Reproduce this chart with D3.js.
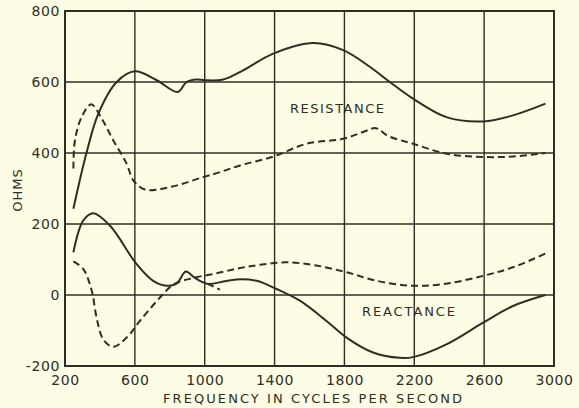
<!DOCTYPE html>
<html>
<head>
<meta charset="utf-8">
<script src="https://cdn.jsdelivr.net/npm/d3@7"></script>
<style>
  html, body { margin: 0; padding: 0; background: #fdfde6; }
  svg { display: block; }
  text { font-family: "DejaVu Sans", sans-serif; fill: #2e2e24; }
</style>
</head>
<body>
<svg id="chart" width="579" height="408"></svg>
<script>
// Frequency (cycles per second) and ohms
const resistanceSolid = [
  [248, 243], [324, 402], [391, 511], [496, 600], [600, 630], [725, 605],
  [845, 572], [896, 600], [953, 607], [1000, 605], [1106, 607], [1220, 633],
  [1392, 680], [1621, 710], [1793, 690], [1945, 643], [2060, 600], [2193, 553],
  [2384, 501], [2594, 489], [2765, 506], [2951, 539]
];
const resistanceDashed = [
  [248, 356], [257, 436], [295, 501], [350, 537], [410, 497], [476, 436],
  [553, 370], [591, 323], [658, 297], [801, 304], [991, 332], [1087, 346],
  [1202, 365], [1392, 390], [1583, 426], [1793, 440], [1907, 459], [1980, 470],
  [2050, 448], [2193, 426], [2384, 398], [2594, 389], [2765, 390], [2951, 400]
];
const reactanceSolid = [
  [248, 120], [305, 210], [362, 230], [458, 195], [610, 87], [705, 40],
  [782, 26], [839, 32], [892, 66], [944, 48], [1020, 31], [1106, 38],
  [1182, 44], [1297, 40], [1411, 17], [1545, -16], [1697, -73], [1812, -120],
  [1964, -162], [2117, -177], [2193, -175], [2384, -139], [2594, -78],
  [2765, -31], [2951, 0]
];
const reactanceDashed = [
  [248, 95], [305, 73], [353, 12], [381, -64], [419, -125], [476, -146],
  [553, -120], [629, -73], [744, -7], [820, 29], [934, 48], [1068, 61],
  [1202, 76], [1316, 85], [1468, 92], [1640, 83], [1812, 64], [1984, 40],
  [2193, 26], [2384, 32], [2594, 54], [2765, 78], [2966, 120]
];
const reactanceStub = [[1020, 31], [1087, 15]];

const xTicks = [200, 600, 1000, 1400, 1800, 2200, 2600, 3000];
const yTicks = [-200, 0, 200, 400, 600, 800];

const ink = '#2e2e24';
const svg = d3.select('#chart');
const margin = { top: 11, right: 25, bottom: 42, left: 65 };
const width = +svg.attr('width');
const height = +svg.attr('height');

const x = d3.scaleLinear().domain([200, 3000]).range([margin.left, width - margin.right]);
const y = d3.scaleLinear().domain([-200, 800]).range([height - margin.bottom, margin.top]);

// grid
svg.append('g').selectAll('line').data(xTicks.slice(1, -1)).join('line')
  .attr('x1', d => x(d)).attr('x2', d => x(d))
  .attr('y1', y(800)).attr('y2', y(-200))
  .attr('stroke', ink).attr('stroke-width', 1.4);
svg.append('g').selectAll('line').data(yTicks.slice(1, -1)).join('line')
  .attr('x1', x(200)).attr('x2', x(3000))
  .attr('y1', d => y(d)).attr('y2', d => y(d))
  .attr('stroke', ink).attr('stroke-width', 1.4);

// frame
svg.append('rect')
  .attr('x', x(200)).attr('y', y(800))
  .attr('width', x(3000) - x(200)).attr('height', y(-200) - y(800))
  .attr('fill', 'none').attr('stroke', ink).attr('stroke-width', 2);

// axes (labels only)
const yAxis = svg.append('g')
  .attr('transform', `translate(${x(200)},0)`)
  .call(d3.axisLeft(y).tickValues(yTicks).tickSize(0).tickPadding(5).tickFormat(d => String(d)));
const xAxis = svg.append('g')
  .attr('transform', `translate(0,${y(-200)})`)
  .call(d3.axisBottom(x).tickValues(xTicks).tickSize(0).tickPadding(9).tickFormat(d => String(d)));
[yAxis, xAxis].forEach(g => {
  g.select('.domain').remove();
  g.selectAll('text')
    .attr('fill', ink)
    .style('font-family', '"DejaVu Sans", sans-serif')
    .style('font-size', '14px')
    .style('letter-spacing', '0.6px');
});

// curves
const line = d3.line()
  .x(d => x(d[0])).y(d => y(d[1]))
  .curve(d3.curveCatmullRom.alpha(0.5));

const series = [
  { data: resistanceSolid, dash: null },
  { data: resistanceDashed, dash: '7,4' },
  { data: reactanceSolid, dash: null },
  { data: reactanceDashed, dash: '7,4' },
  { data: reactanceStub, dash: '6,4' }
];
svg.append('g').selectAll('path').data(series).join('path')
  .attr('d', d => line(d.data))
  .attr('fill', 'none')
  .attr('stroke', ink)
  .attr('stroke-width', 2)
  .attr('stroke-dasharray', d => d.dash);

// labels
svg.append('text').attr('x', 290).attr('y', 113)
  .attr('textLength', 94).attr('lengthAdjust', 'spacing')
  .style('font-size', '13px').text('RESISTANCE');
svg.append('text').attr('x', 362).attr('y', 316)
  .attr('textLength', 93).attr('lengthAdjust', 'spacing')
  .style('font-size', '13px').text('REACTANCE');
svg.append('text').attr('x', 163).attr('y', 403)
  .attr('textLength', 299).attr('lengthAdjust', 'spacing')
  .style('font-size', '13px').text('FREQUENCY IN CYCLES PER SECOND');
svg.append('text')
  .attr('transform', 'translate(22,190) rotate(-90)')
  .attr('text-anchor', 'middle')
  .style('font-size', '13px')
  .style('letter-spacing', '1px')
  .text('OHMS');
</script>
</body>
</html>
